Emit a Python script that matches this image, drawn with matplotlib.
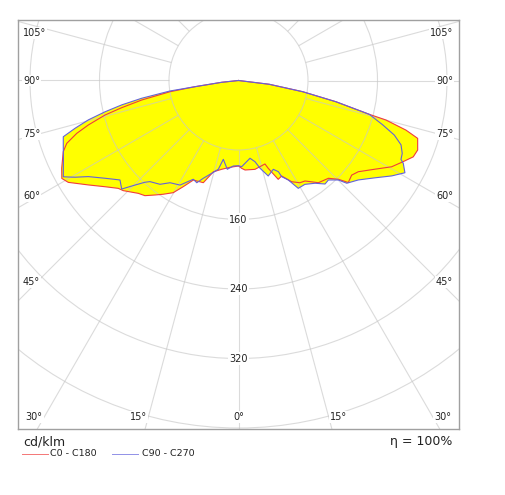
import numpy as np
import matplotlib
matplotlib.use("Agg")
import matplotlib.pyplot as plt
from matplotlib.patches import Circle
from matplotlib.lines import Line2D

# ---------------- data (gamma in degrees from nadir, intensity in cd/klm) -------------
# C0 (right half, red)
c0_gamma = [0, 2.1, 4.2, 10.5, 17.6, 18.7, 21.9, 24.3, 27.7, 31.0, 33.5, 38.0, 42.6, 45.3,
            47.1, 50.1, 52.7, 57.0, 60.6, 63.8, 66.4, 68.8, 72.1, 73.5, 75.0, 75.5, 77.7,
            80.1, 83.0, 90]
c0_cd = [98.4, 101.2, 103.3, 104.0, 100.8, 106.7, 122.6, 120.6, 131.6, 137.3, 138.7, 149.3,
         152.9, 161.6, 172.5, 169.8, 173.3, 187.4, 202.3, 211.4, 219.5, 221.2, 216.7, 201.0,
         175.7, 155.5, 114.8, 75.0, 35.7, 0]
# C180 (left half, red)
c180_gamma = [0, 5.6, 10.7, 15.4, 19.0, 24.4, 27.5, 30.2, 33.5, 36.1, 39.1, 41.6, 46.3, 48.1,
              51.5, 55.2, 59.1, 61.0, 63.6, 67.9, 69.9, 71.9, 73.5, 75.5, 76.9, 78.6, 80.7,
              81.9, 83.9, 90]
c180_cd = [98.4, 100.4, 104.0, 109.0, 124.4, 125.8, 137.8, 149.4, 157.0, 163.1, 170.8, 173.7,
           183.5, 185.9, 196.4, 210.6, 228.3, 232.5, 227.2, 217.7, 210.5, 195.9, 180.3, 158.7,
           138.0, 113.7, 79.9, 50.6, 19.4, 0]
# C90 (right half, blue)
c90_gamma = [0, 2.1, 8.4, 11.5, 13.8, 17.3, 21.4, 23.6, 24.2, 26.6, 29.0, 32.6, 36.7, 39.9,
             42.1, 45.1, 46.5, 50.3, 54.5, 58.1, 61.0, 63.3, 64.1, 66.0, 68.4, 70.7, 72.9,
             75.5, 77.7, 80.1, 83.0, 90]
c90_cd = [98.1, 99.3, 90.5, 95.4, 104.0, 115.1, 109.8, 114.5, 121.4, 128.1, 141.9, 141.9,
          147.5, 155.3, 154.3, 162.2, 171.8, 179.2, 192.9, 207.8, 219.0, 212.3, 207.9, 206.3,
          201.2, 190.0, 173.7, 155.5, 114.8, 75.0, 35.7, 0]
# C270 (left half, blue)
c270_gamma = [0, 3.5, 7.2, 10.9, 12.8, 16.1, 19.8, 22.2, 24.6, 29.2, 33.8, 37.1, 41.2, 42.6,
              44.7, 47.1, 50.0, 53.8, 57.4, 59.4, 61.2, 66.0, 69.3, 72.2, 73.7, 75.3, 76.8,
              78.2, 79.6, 81.3, 81.9, 83.9, 90]
c270_cd = [98.1, 98.6, 103.0, 92.4, 104.8, 111.2, 119.6, 127.1, 125.0, 137.9, 141.6, 149.8,
           154.7, 159.1, 169.3, 183.5, 178.1, 190.5, 205.3, 218.7, 230.1, 220.6, 215.6, 211.8,
           196.0, 178.7, 157.8, 137.3, 113.3, 79.8, 50.6, 19.4, 0]

ring_values = [80, 160, 240, 320, 400]
ring_label_values = [160, 240, 320]
angle_label_values = [0, 15, 30, 45, 60, 75, 90, 105]
unit_text = "cd/klm"
eta_text = "η = 100%"
legend_labels = ["C0 - C180", "C90 - C270"]

# ---------------- layout ----------------
W, H = 505, 495
S = 0.8688            # px per cd/klm
CX, CY = 238.5, 80.5  # centre in px
L, R, T, B = 18, 459, 20, 429

def px2d(px, py):
    return (px - CX) / S, (CY - py) / S

fig = plt.figure(figsize=(W / 100, H / 100), dpi=100)
ax = fig.add_axes([L / W, 1 - B / H, (R - L) / W, (B - T) / H])
x0, y1 = px2d(L, T)
x1, y0 = px2d(R, B)
ax.set_xlim(x0, x1)
ax.set_ylim(y0, y1)
ax.set_xticks([])
ax.set_yticks([])
for sp in ax.spines.values():
    sp.set_color("#a0a0a0")
    sp.set_linewidth(1.0)

RED = "#f03c3c"
BLUE = "#6262dc"
GRID = "#c8c8c8"


def curve(g_left, i_left, g_right, i_right):
    gl = np.radians(np.asarray(g_left, float))[::-1]
    il = np.asarray(i_left, float)[::-1]
    gr = np.radians(np.asarray(g_right, float))
    ir = np.asarray(i_right, float)
    x = np.concatenate([-il * np.sin(gl), ir * np.sin(gr)])
    y = np.concatenate([-il * np.cos(gl), -ir * np.cos(gr)])
    return x, y


xr, yr = curve(c180_gamma, c180_cd, c0_gamma, c0_cd)
xb, yb = curve(c270_gamma, c270_cd, c90_gamma, c90_cd)

ax.fill(xr, yr, color="#ffff00", lw=0, zorder=1)
ax.fill(xb, yb, color="#ffff00", lw=0, zorder=1)

# grid
for rv in ring_values:
    ax.add_patch(Circle((0, 0), rv, fill=False, ec=GRID, lw=0.8, alpha=0.65, zorder=2))
for a in range(0, 360, 15):
    t = np.radians(a)
    ax.plot([80 * np.sin(t), 700 * np.sin(t)], [-80 * np.cos(t), -700 * np.cos(t)],
            color=GRID, lw=0.8, alpha=0.65, zorder=2, solid_capstyle="butt")

ax.plot(xr, yr, color=RED, lw=0.8, zorder=3)
ax.plot(xb, yb, color=BLUE, lw=0.8, zorder=3)

# ring labels
for rv in ring_label_values:
    ax.text(0, -rv, str(rv), ha="center", va="center", fontsize=7, color="#222222",
            zorder=4, bbox=dict(boxstyle="square,pad=0.15", fc="white", ec="none"))

# angle labels
for a in angle_label_values:
    g = np.radians(a)
    if a <= 30:
        dy = 417 - CY
        for sgn in ([1] if a == 0 else [-1, 1]):
            dx = dy * np.tan(g) + (10 if a else 0)
            px = CX + sgn * dx
            ax.text(*px2d(px, 417), f"{a}°", ha="center", va="center", fontsize=7,
                    color="#222222", zorder=5,
                    bbox=dict(boxstyle="square,pad=0.1", fc="white", ec="none"))
    else:
        ydist = 207.5 * np.cos(g) / np.sin(g)
        py = max(CY + ydist - 8 * np.cos(g), 33)
        ax.text(*px2d(23, py), f"{a}°", ha="left", va="center", fontsize=7,
                color="#222222", zorder=5,
                bbox=dict(boxstyle="square,pad=0.1", fc="white", ec="none"))
        ax.text(*px2d(453, py), f"{a}°", ha="right", va="center", fontsize=7,
                color="#222222", zorder=5,
                bbox=dict(boxstyle="square,pad=0.1", fc="white", ec="none"))

# texts below the frame
fig.text(23 / W, 1 - 442 / H, unit_text, ha="left", va="center", fontsize=9, color="#222222")
fig.text(452 / W, 1 - 442 / H, eta_text, ha="right", va="center", fontsize=9, color="#222222")

ly = 1 - 454 / H
fig.add_artist(Line2D([22 / W, 48 / W], [ly, ly], color=RED, lw=0.7, alpha=0.7))
fig.text(50 / W, ly, legend_labels[0], ha="left", va="center", fontsize=6.8, color="#222222")
fig.add_artist(Line2D([112 / W, 138 / W], [ly, ly], color=BLUE, lw=0.7, alpha=0.7))
fig.text(142 / W, ly, legend_labels[1], ha="left", va="center", fontsize=6.8, color="#222222")

fig.savefig("out.png", dpi=100, facecolor="white")
